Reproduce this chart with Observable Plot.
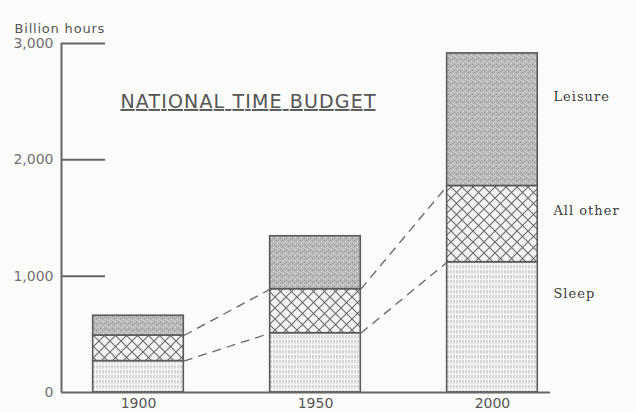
<!DOCTYPE html>
<html><head><meta charset="utf-8">
<script src="https://cdn.jsdelivr.net/npm/d3@7"></script>
<script src="https://cdn.jsdelivr.net/npm/@observablehq/plot@0.6"></script>
<style>body{margin:0;background:#fbfbfa;}</style>
</head><body><div id="chart"></div>
<script>
const years = [1900, 1950, 2000];
const categories = ["Sleep", "All other", "Leisure"];
const sleep = [270, 510, 1120];
const allOther = [220, 378, 655];
const leisure = [170, 455, 1140];
const yTicks = [0, 1000, 2000, 3000];
const title = "NATIONAL TIME BUDGET";
const unitLabel = "Billion hours";

const series = [sleep, allOther, leisure];
const patternIds = ["pat-sleep", "pat-other", "pat-leisure"];
const labelFrac = [0.76, 0.68, 0.67];
const HW = 12.8;
const XMIN = 1878.25, XMAX = 2016.4;

const rows = [];
years.forEach((year, i) => {
  let acc = 0;
  categories.forEach((cat, j) => {
    const v = series[j][i];
    rows.push({year, cat, j, fill: `url(#${patternIds[j]})`, y1: acc, y2: acc + v});
    acc += v;
  });
});
const links = [];
for (let j = 0; j < 2; j++) {
  for (let i = 0; i < years.length - 1; i++) {
    const a = rows.find(r => r.year === years[i] && r.cat === categories[j]);
    const b = rows.find(r => r.year === years[i + 1] && r.cat === categories[j]);
    links.push({x1: years[i] + HW, y1: a.y2, x2: years[i + 1] - HW, y2: b.y2});
  }
}
const last = years[years.length - 1];
const labelRows = rows.filter(r => r.year === last)
  .map(r => ({cat: r.cat, year: last, y: r.y1 + labelFrac[r.j] * (r.y2 - r.y1)}));

const chart = Plot.plot({
  width: 636, height: 412,
  marginLeft: 61, marginRight: 86, marginTop: 43, marginBottom: 20,
  style: {background: "#fbfbfa", color: "#666", fontFamily: "DejaVu Sans"},
  x: {domain: [XMIN, XMAX], axis: null},
  y: {domain: [0, 3000], axis: null},
  color: {type: "identity"},
  marks: [
    Plot.rect(rows, {x1: d => d.year - HW, x2: d => d.year + HW, y1: "y1", y2: "y2",
      fill: "fill", stroke: "#5a5a5a", strokeWidth: 1.6}),
    Plot.link(links, {x1: "x1", y1: "y1", x2: "x2", y2: "y2",
      stroke: "#666", strokeWidth: 1.3, strokeDasharray: "9,6"}),
    Plot.ruleX([XMIN], {stroke: "#666", strokeWidth: 2}),
    Plot.ruleY([0], {stroke: "#666", strokeWidth: 2}),
    Plot.tickY(yTicks.filter(d => d > 0), {y: d => d, stroke: "#666", strokeWidth: 2, insetRight: 445}),
    Plot.text(yTicks, {x: XMIN, y: d => d, text: d => d3.format(",")(d),
      textAnchor: "end", dx: -8, fontSize: 14, fill: "#707070"}),
    Plot.text(years, {x: d => d, y: 0, text: d => String(d), lineAnchor: "top",
      dy: 6, fontSize: 14, fill: "#555"}),
    Plot.text(labelRows, {x: "year", y: "y", text: "cat", dx: 61, textAnchor: "start",
      fontFamily: "DejaVu Serif", fontSize: 13, fill: "#3a3a3a"}),
    Plot.text([title], {frameAnchor: "top-left", text: d => d, dx: 59, dy: 51,
      textAnchor: "start", fontSize: 19, fill: "#555"}),
    Plot.text([unitLabel], {frameAnchor: "top-left", text: d => d, dx: -47, dy: -20,
      textAnchor: "start", fontSize: 13, fill: "#555"})
  ]
});

const svg = d3.select(chart);
svg.insert("defs", ":first-child").html(`
  <pattern id="pat-sleep" width="3" height="5" patternUnits="userSpaceOnUse">
    <rect width="3" height="5" fill="#f7f7f6"/>
    <line x1="1" y1="0" x2="1" y2="3.5" stroke="#ababab" stroke-width="0.9"/>
  </pattern>
  <pattern id="pat-other" width="11" height="11" patternUnits="userSpaceOnUse">
    <rect width="11" height="11" fill="#f4f4f3"/>
    <path d="M0,0L11,11M11,0L0,11" stroke="#6a6a6a" stroke-width="1.1"/>
  </pattern>
  <pattern id="pat-leisure" width="6" height="6" patternUnits="userSpaceOnUse">
    <rect width="6" height="6" fill="#b9b9b9"/>
    <rect x="0" y="0" width="1" height="1" fill="#8c8c8c"/>
    <rect x="3" y="1" width="1" height="1" fill="#dedede"/>
    <rect x="1" y="3" width="1" height="1" fill="#e4e4e4"/>
    <rect x="4" y="4" width="1" height="1" fill="#909090"/>
    <rect x="2" y="5" width="1" height="1" fill="#a0a0a0"/>
    <rect x="5" y="2" width="1" height="1" fill="#d0d0d0"/>
  </pattern>`);
svg.selectAll("text").each(function() {
  const t = this.textContent;
  if (t === title) {
    d3.select(this).attr("textLength", 255).attr("lengthAdjust", "spacing")
      .style("text-decoration", "underline");
  } else if (categories.includes(t)) {
    d3.select(this).style("letter-spacing", "1px");
  } else if (t === unitLabel) {
    d3.select(this).style("letter-spacing", "0.8px");
  }
});
document.getElementById("chart").appendChild(chart);
</script>
</body></html>
